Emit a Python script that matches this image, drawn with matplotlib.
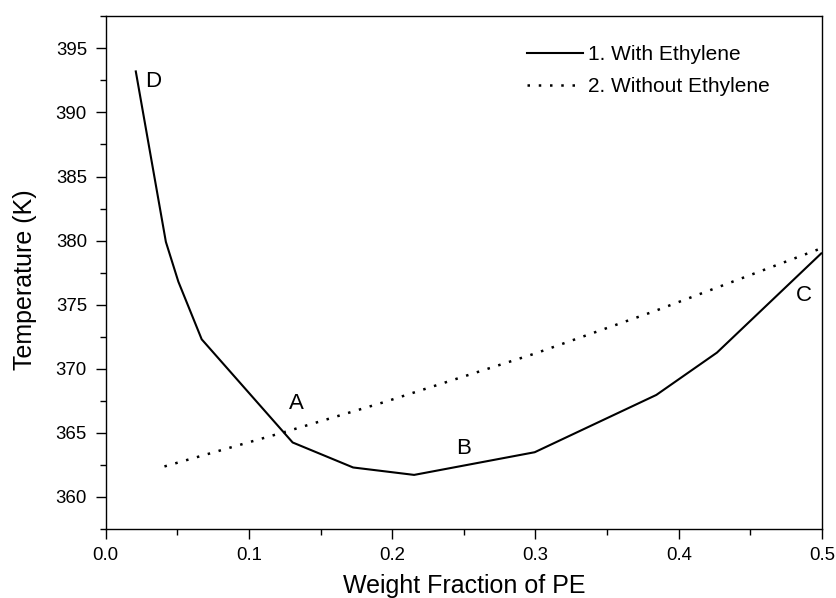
import numpy as np
import matplotlib
matplotlib.use('Agg')
import matplotlib.pyplot as plt
from matplotlib.ticker import MultipleLocator

plt.rcParams['font.family'] = ['Liberation Sans', 'DejaVu Sans']

# curve 1: with ethylene
wf_eth = [0.021, 0.042, 0.0507, 0.067, 0.1305, 0.1727, 0.2153, 0.2995, 0.3844, 0.4267, 0.4995]
temp_eth = [393.2, 379.9, 376.8, 372.3, 364.25, 362.3, 361.72, 363.49, 367.96, 371.26, 379.0]

# curve 2: without ethylene
wf_no = [0.041, 0.126, 0.195, 0.30, 0.382, 0.4995]
temp_no = [362.38, 365.1, 367.42, 371.2, 374.45, 379.4]

# point labels
lbl_text = ['D', 'A', 'B', 'C']
lbl_x = [0.0332, 0.1332, 0.250, 0.4874]
lbl_y = [392.4, 367.3, 363.8, 375.75]

fig = plt.figure(figsize=(8.37, 5.98), dpi=100)
ax = fig.add_axes([0.1263, 0.1154, 0.8557, 0.8584])

ax.plot(wf_eth, temp_eth, color='black', lw=1.5, label='1. With Ethylene')
ax.plot(wf_no, temp_no, color='black', lw=1.8, linestyle=(0, (1, 3.5)),
        label='2. Without Ethylene')

for t, x, y in zip(lbl_text, lbl_x, lbl_y):
    ax.text(x, y, t, fontsize=16, ha='center', va='center')

ax.set_xlim(0, 0.5)
ax.set_ylim(357.5, 397.55)
ax.xaxis.set_major_locator(MultipleLocator(0.1))
ax.xaxis.set_minor_locator(MultipleLocator(0.05))
ax.yaxis.set_major_locator(MultipleLocator(5))
ax.yaxis.set_minor_locator(MultipleLocator(2.5))
ax.tick_params(which='major', direction='out', length=7.5, width=1.0,
               labelsize=13.4)
ax.tick_params(axis='x', which='major', pad=5.5)
ax.tick_params(axis='y', which='major', pad=6)
ax.tick_params(which='minor', direction='out', length=4, width=1.0)
ax.tick_params(top=False, right=False, which='both')
for sp in ax.spines.values():
    sp.set_linewidth(1.0)

ax.set_xlabel('Weight Fraction of PE', fontsize=18)
ax.set_ylabel('Temperature (K)', fontsize=18)
ax.xaxis.set_label_coords(0.5, -0.0885)
ax.yaxis.set_label_coords(-0.0959, 0.485)

ax.legend(loc='upper left', bbox_to_anchor=(0.588, 0.942), frameon=False,
          fontsize=15, handlelength=2.7, handletextpad=0.24,
          labelspacing=0.6, borderpad=0, borderaxespad=0)

fig.savefig('out.png', dpi=100)
